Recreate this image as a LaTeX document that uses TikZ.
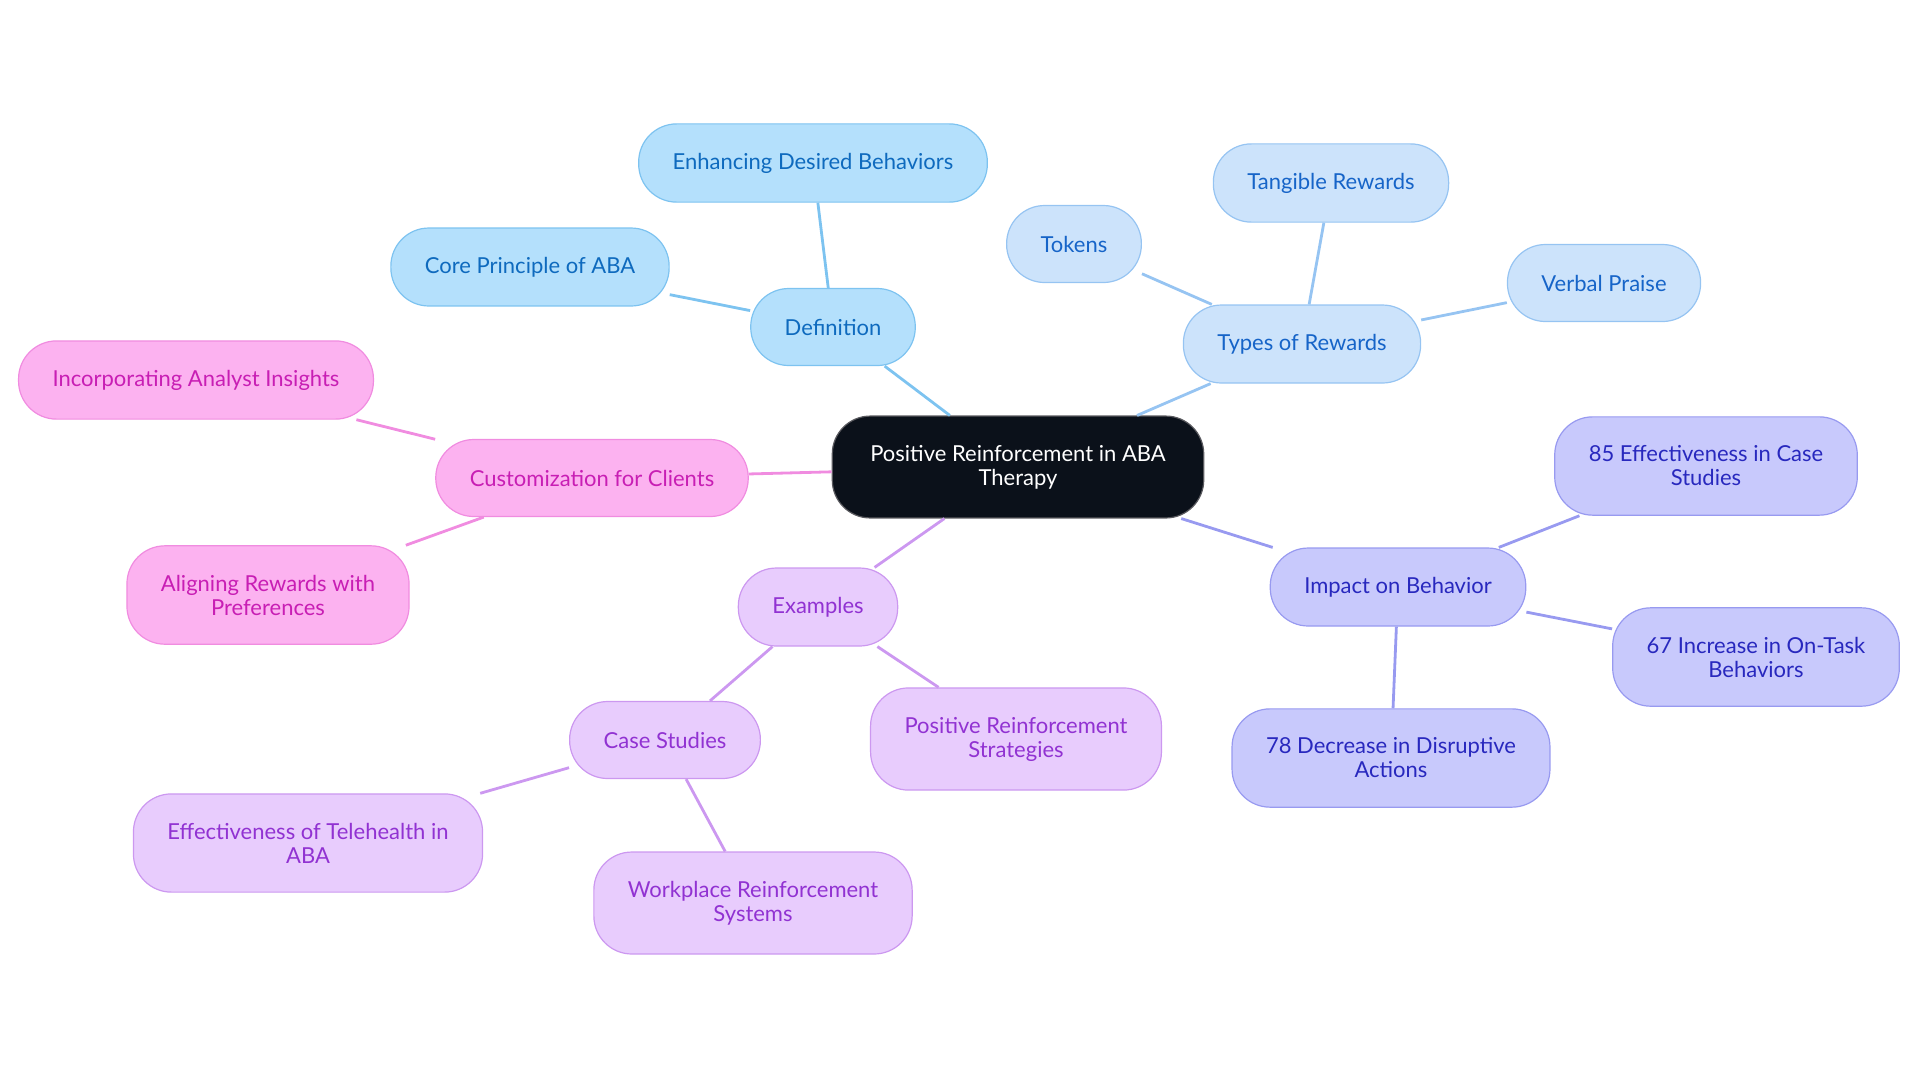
\documentclass[tikz,border=0pt]{standalone}
\usepackage{fontspec}
\setmainfont{Lato}
\usetikzlibrary{positioning}

\begin{document}
\begin{tikzpicture}[x=0.5pt, y=-0.5pt,
        every node/.style={font=\fontsize{11}{12}\selectfont, align=center},
        bubble/.style={draw, line width=0.6pt, rounded corners=19pt, minimum height=38.5pt, inner xsep=17pt, inner ysep=14.5pt},
        rootbox/.style={bubble, fill=rootfill, draw=rootdraw, text=white, inner xsep=19pt},
        defbox/.style={bubble, fill=deffill, draw=defdraw, text=deftext},
        typbox/.style={bubble, fill=typfill, draw=typdraw, text=typtext},
        impbox/.style={bubble, fill=impfill, draw=impdraw, text=imptext},
        exbox/.style={bubble, fill=exfill, draw=exdraw, text=extext},
        cusbox/.style={bubble, fill=cusfill, draw=cusdraw, text=custext},
        link/.style={line width=1.4pt}]
        \definecolor{rootfill}{RGB}{11,17,26}
        \definecolor{rootdraw}{RGB}{90,90,95}
        \definecolor{deffill}{RGB}{180,224,252}
        \definecolor{defdraw}{RGB}{125,195,240}
        \definecolor{deftext}{RGB}{14,106,190}
        \definecolor{typfill}{RGB}{204,227,251}
        \definecolor{typdraw}{RGB}{150,196,242}
        \definecolor{typtext}{RGB}{22,100,200}
        \definecolor{impfill}{RGB}{200,201,252}
        \definecolor{impdraw}{RGB}{152,154,240}
        \definecolor{imptext}{RGB}{40,40,190}
        \definecolor{exfill}{RGB}{232,204,253}
        \definecolor{exdraw}{RGB}{204,152,240}
        \definecolor{extext}{RGB}{145,50,210}
        \definecolor{cusfill}{RGB}{252,178,240}
        \definecolor{cusdraw}{RGB}{240,140,224}
        \definecolor{custext}{RGB}{200,30,180}

        \useasboundingbox (0,0) rectangle (1920,1083);

        % Central topic
        \node[rootbox] (root) at (1018,467) {Positive Reinforcement in ABA\\Therapy};

        % Definition branch
        \node[defbox] (def) at (833,327) {Definition};
        \node[defbox] (enh) at (813,163) {Enhancing Desired Behaviors};
        \node[defbox] (core) at (530,267) {Core Principle of ABA};

        % Types of rewards branch
        \node[typbox] (types) at (1302,344) {Types of Rewards};
        \node[typbox] (tok) at (1074,244) {Tokens};
        \node[typbox] (tang) at (1331,183) {Tangible Rewards};
        \node[typbox] (verbal) at (1604,283) {Verbal Praise};

        % Impact branch
        \node[impbox] (impact) at (1398,587) {Impact on Behavior};
        \node[impbox] (eff85) at (1706,466) {85 Effectiveness in Case\\Studies};
        \node[impbox] (inc67) at (1756,657) {67 Increase in On-Task\\Behaviors};
        \node[impbox] (dec78) at (1391,758) {78 Decrease in Disruptive\\Actions};

        % Examples branch
        \node[exbox] (ex) at (818,607) {Examples};
        \node[exbox] (cases) at (665,740) {Case Studies};
        \node[exbox] (strat) at (1016,739) {Positive Reinforcement\\Strategies};
        \node[exbox] (tele) at (308,843) {Effectiveness of Telehealth in\\ABA};
        \node[exbox] (work) at (753,903) {Workplace Reinforcement\\Systems};

        % Customization branch
        \node[cusbox] (custom) at (592,478) {Customization for Clients};
        \node[cusbox] (insight) at (196,380) {Incorporating Analyst Insights};
        \node[cusbox] (align) at (268,595) {Aligning Rewards with\\Preferences};

        % Connectors
        \draw[link, defdraw] (root) -- (def);
        \draw[link, defdraw] (def) -- (enh);
        \draw[link, defdraw] (def) -- (core);
        \draw[link, typdraw] (root) -- (types);
        \draw[link, typdraw] (types) -- (tok);
        \draw[link, typdraw] (types) -- (tang);
        \draw[link, typdraw] (types) -- (verbal);
        \draw[link, impdraw] (root) -- (impact);
        \draw[link, impdraw] (impact) -- (eff85);
        \draw[link, impdraw] (impact) -- (inc67);
        \draw[link, impdraw] (impact) -- (dec78);
        \draw[link, exdraw] (root) -- (ex);
        \draw[link, exdraw] (ex) -- (cases);
        \draw[link, exdraw] (ex) -- (strat);
        \draw[link, exdraw] (cases) -- (tele);
        \draw[link, exdraw] (cases) -- (work);
        \draw[link, cusdraw] (root) -- (custom);
        \draw[link, cusdraw] (custom) -- (insight);
        \draw[link, cusdraw] (custom) -- (align);
\end{tikzpicture}
\end{document}
